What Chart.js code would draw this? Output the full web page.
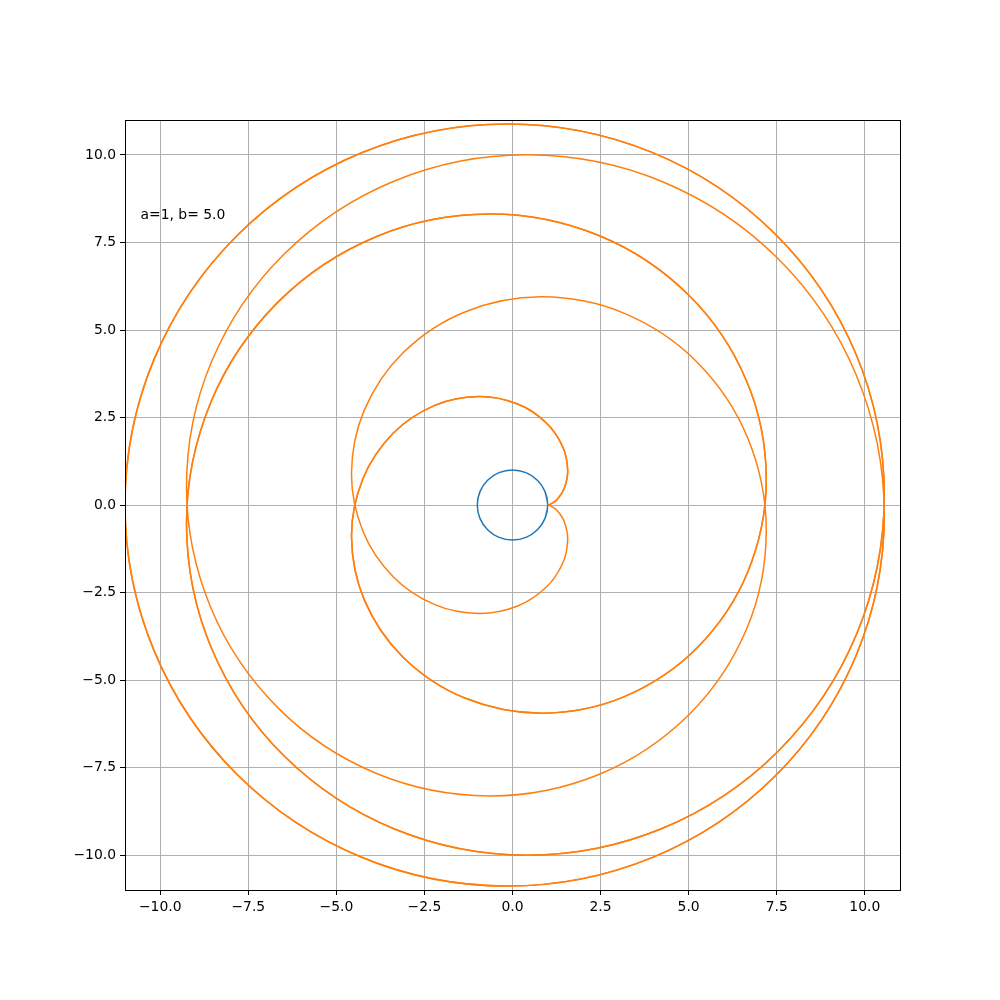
<!DOCTYPE html>
<html>
<head>
<meta charset="utf-8">
<script src="https://cdn.jsdelivr.net/npm/chart.js@4.4.0/dist/chart.umd.min.js"></script>
<style>
  html, body { margin: 0; padding: 0; background: #fff; }
  canvas { display: block; }
</style>
</head>
<body>
<canvas id="plot" width="1000" height="1000"></canvas>
<script>
// ——— DATA ———
// orange curve, one full turn from the cusp at (1,0) out to (-11,0) and back to the cusp
const curveX = [1, 1.074, 1.260, 1.467, 1.566, 1.428, 0.962, 0.146, -0.959, -2.206, -3.381, -4.243, -4.570, -4.207, -3.107, -1.353,
    0.841, 3.160, 5.227, 6.675, 7.204, 6.645, 5, 2.451, -0.655, -3.857, -6.651, -8.566, -9.254, -8.545, -6.488, -3.351,
    0.415, 4.243, 7.535, 9.763, 10.554, 9.752, 7.450, 3.979, -0.142, -4.284, -7.809, -10.170,
    -11,
    -10.170, -7.809, -4.284, -0.142, 3.979, 7.450, 9.752, 10.554, 9.763, 7.535, 4.243, 0.415,
    -3.351, -6.488, -8.545, -9.254, -8.566, -6.651, -3.857, -0.655, 2.451, 5, 6.645, 7.204, 6.675, 5.227, 3.160, 0.841,
    -1.353, -3.107, -4.207, -4.570, -4.243, -3.381, -2.206, -0.959, 0.146, 0.962, 1.428, 1.566, 1.467, 1.260, 1.074, 1];
const curveY = [0, 0.020, 0.151, 0.469, 0.990, 1.657, 2.344, 2.884, 3.099, 2.846, 2.056, 0.757, -0.910, -2.710, -4.348, -5.515,
    -5.947, -5.482, -4.095, -1.922, 0.756, 3.545, 6, 7.699, 8.313, 7.673, 5.803, 2.931, -0.541, -4.092, -7.166, -9.259,
    -10.006, -9.243, -7.041, -3.702, 0.282, 4.307, 7.751, 10.069, 10.888, 10.064, 7.708, 4.174,
    0,
    -4.174, -7.708, -10.064, -10.888, -10.069, -7.751, -4.307, -0.282, 3.702, 7.041, 9.243, 10.006,
    9.259, 7.166, 4.092, 0.541, -2.931, -5.803, -7.673, -8.313, -7.699, -6, -3.545, -0.756, 1.922, 4.095, 5.482, 5.947,
    5.515, 4.348, 2.710, 0.910, -0.757, -2.056, -2.846, -3.099, -2.884, -2.344, -1.657, -0.990, -0.469, -0.151, -0.020, 0];
// the start of the curve is drawn a second time, up to this index
const retraceEnd = 52;

// blue circle, radius a = 1 (first and last points overlap to close it)
const circleX = [0.9239, 1, 0.9239, 0.7071, 0.3827, 0, -0.3827, -0.7071, -0.9239, -1, -0.9239, -0.7071, -0.3827, 0, 0.3827, 0.7071, 0.9239, 1, 0.9239];
const circleY = [-0.3827, 0, 0.3827, 0.7071, 0.9239, 1, 0.9239, 0.7071, 0.3827, 0, -0.3827, -0.7071, -0.9239, -1, -0.9239, -0.7071, -0.3827, 0, 0.3827];

const tickValues = [-10, -7.5, -5, -2.5, 0, 2.5, 5, 7.5, 10];
const axisMin = -11, axisMax = 11;
const noteText = 'a=1, b= 5.0';
const noteAt = [-10.56, 8.17];

// ——— HELPERS ———
const toPoints = (xs, ys) => xs.map((x, i) => ({ x, y: ys[i] }));
const fmtTick = v => (v < 0 ? '\u2212' : '') + Math.abs(v).toFixed(1);
const FONT = { family: 'DejaVu Sans', size: 13.9 };

const frameAndNote = {
    id: 'frameAndNote',
    beforeDraw(chart) {
        const c = chart.ctx;
        c.save();
        c.fillStyle = '#fff';
        c.fillRect(0, 0, chart.width, chart.height);
        c.restore();
    },
    afterDraw(chart) {
        const c = chart.ctx, a = chart.chartArea;
        const xs = chart.scales.x, ys = chart.scales.y;
        c.save();
        c.strokeStyle = '#000';
        c.lineWidth = 1;
        c.strokeRect(Math.round(a.left) + 0.5, Math.round(a.top) + 0.5, Math.round(a.right - a.left), Math.round(a.bottom - a.top));
        c.fillStyle = '#000';
        c.font = `${FONT.size}px ${FONT.family}`;
        c.textAlign = 'left';
        c.textBaseline = 'alphabetic';
        c.fillText(noteText, xs.getPixelForValue(noteAt[0]), ys.getPixelForValue(noteAt[1]));
        c.restore();
    }
};

function axis(pos, size) {
    return {
        type: 'linear',
        position: pos,
        min: axisMin,
        max: axisMax,
        afterBuildTicks: s => { s.ticks = tickValues.map(v => ({ value: v })); },
        afterFit: s => { if (pos === 'left') s.width = size; else s.height = size; },
        grid: { color: '#b0b0b0', lineWidth: 1, tickColor: '#000', tickLength: 5, drawTicks: true },
        border: { display: true, color: '#000', width: 1 },
        ticks: { color: '#000', font: FONT, padding: 4, maxRotation: 0, autoSkip: false, callback: fmtTick }
    };
}

// ——— CHART ———
const allPoints = toPoints(curveX, curveY);
// one extra point so the spline keeps its shape at the end; that last piece is not drawn
const retracePoints = allPoints.slice(0, retraceEnd + 2);

new Chart(document.getElementById('plot').getContext('2d'), {
    type: 'scatter',
    data: {
        datasets: [
            {
                data: retracePoints,
                showLine: true, borderColor: '#ff7f0e', borderWidth: 1.5, tension: 0.35,
                pointRadius: 0, order: 1,
                segment: { borderColor: ctx => ctx.p1DataIndex === retraceEnd + 1 ? 'rgba(0,0,0,0)' : undefined }
            },
            {
                data: allPoints,
                showLine: true, borderColor: '#ff7f0e', borderWidth: 1.5, tension: 0.35,
                pointRadius: 0, order: 2
            },
            {
                data: toPoints(circleX, circleY),
                showLine: true, borderColor: '#1f77b4', borderWidth: 1.5, tension: 0.343,
                pointRadius: 0, order: 3
            }
        ]
    },
    options: {
        responsive: false,
        animation: false,
        devicePixelRatio: 1,
        layout: { padding: { left: 0, right: 100, top: 120, bottom: 0 } },
        plugins: { legend: { display: false }, tooltip: { enabled: false } },
        scales: {
            x: axis('bottom', 110),
            y: axis('left', 125)
        }
    },
    plugins: [frameAndNote]
});
</script>
</body>
</html>
